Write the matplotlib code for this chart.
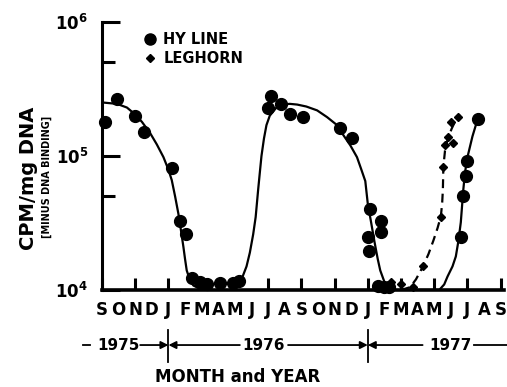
import numpy as np
import matplotlib.pyplot as plt
from matplotlib.lines import Line2D

# -----------------------------
# Data (months counted from Sept 1975 = 0)
# -----------------------------
month_labels = list("SONDJFMAMJJASONDJFMAMJJAS")

hyline_x = [0.2, 0.9, 2.0, 2.5, 4.2, 4.7, 5.05, 5.4, 5.9, 6.3, 7.1, 7.9, 8.25,
            10.0, 10.2, 10.8, 11.3, 12.1, 14.35, 15.05,
            16.15, 16.8, 16.0, 16.8, 16.05, 16.6, 17.0, 17.3,
            21.6, 21.75, 21.9, 22.0, 22.65]
hyline_y = [1.8e5, 2.66e5, 2.0e5, 1.5e5, 8.1e4, 3.3e4, 2.6e4, 1.23e4, 1.15e4, 1.1e4, 1.13e4, 1.13e4, 1.17e4,
            2.3e5, 2.8e5, 2.45e5, 2.05e5, 1.95e5, 1.63e5, 1.36e5,
            4.0e4, 3.3e4, 2.5e4, 2.7e4, 1.95e4, 1.08e4, 1.06e4, 1.05e4,
            2.5e4, 5.0e4, 7.1e4, 9.1e4, 1.9e5]

leghorn_x = [17.4, 18.0, 18.7, 19.3, 20.4, 20.5, 20.65, 20.85, 21.1, 21.0, 21.45]
leghorn_y = [1.15e4, 1.1e4, 1.05e4, 1.5e4, 3.5e4, 8.3e4, 1.2e5, 1.38e5, 1.26e5, 1.8e5, 1.95e5]

# fitted curves
hyline_fit_x = [0.0, 0.9, 1.5, 1.9, 2.4, 2.9, 3.3, 3.7, 4.0, 4.2, 4.4, 4.6, 4.75, 4.9,
                5.0, 5.1, 5.3, 5.5, 5.9, 6.5, 7.8,
                8.1, 8.4, 8.7, 8.9, 9.1, 9.25, 9.4, 9.5, 9.6, 9.75, 9.9, 10.1, 10.5,
                10.9, 11.3, 11.75, 12.3, 12.95, 13.55, 14.15, 14.5, 14.95, 15.35,
                15.6, 15.85, 16.0, 16.2, 16.4, 16.6, 16.75, 17.0, 17.2, 17.6,
                20.3, 20.6, 20.8, 21.1, 21.3, 21.45, 21.6, 21.75, 21.85, 22.0, 22.3, 22.6]
hyline_fit_y = [2.51e5, 2.45e5, 2.3e5, 2.09e5, 1.8e5, 1.48e5, 1.22e5, 9.8e4, 7.9e4, 6.6e4, 5.0e4, 3.7e4, 2.8e4, 2.1e4,
                1.7e4, 1.4e4, 1.18e4, 1.08e4, 1.02e4, 1.0e4, 1.0e4,
                1.06e4, 1.2e4, 1.5e4, 1.9e4, 2.6e4, 3.5e4, 5.6e4, 7.5e4, 1.0e5, 1.35e5, 1.7e5, 2.0e5, 2.3e5,
                2.42e5, 2.45e5, 2.42e5, 2.34e5, 2.19e5, 1.95e5, 1.7e5, 1.45e5, 1.2e5, 9.8e4,
                8.0e4, 6.5e4, 4.4e4, 3.2e4, 2.3e4, 1.7e4, 1.4e4, 1.15e4, 1.07e4, 1.0e4,
                1.0e4, 1.1e4, 1.26e4, 1.5e4, 1.78e4, 2.3e4, 3.2e4, 5.6e4, 7.5e4, 9.8e4, 1.4e5, 1.86e5]

leghorn_fit_x = [18.0, 18.55, 18.9, 19.3, 19.65, 19.95, 20.2, 20.4, 20.48, 20.52, 20.55,
                 20.65, 20.8, 21.05, 21.3, 21.55]
leghorn_fit_y = [1.0e4, 1.05e4, 1.2e4, 1.48e4, 1.85e4, 2.34e4, 2.9e4, 3.55e4, 4.5e4, 5.6e4, 8.3e4,
                 1.1e5, 1.32e5, 1.6e5, 1.86e5, 2.04e5]

# year row: (label, centre month), divider months
year_labels = ["1975", "1976", "1977"]
year_centres = [1.0, 9.7, 21.0]
year_dividers = [4, 16]

# -----------------------------
# Figure
# -----------------------------
plt.rcParams['font.family'] = 'DejaVu Sans'
plt.rcParams['font.weight'] = 'bold'

W, H = 507, 387
fig = plt.figure(figsize=(W / 100, H / 100), dpi=100)
ax = fig.add_axes([102 / W, 1 - 290 / H, 402 / W, 268 / H])

ax.plot(hyline_fit_x, hyline_fit_y, color='black', lw=1.6, zorder=2,
        solid_joinstyle='round')
ax.plot(leghorn_fit_x, leghorn_fit_y, color='black', lw=1.6, ls=(0, (4, 2.5)), zorder=2)
ax.plot(hyline_x, hyline_y, 'o', color='black', ms=8.5, clip_on=False, zorder=3)
ax.plot(leghorn_x, leghorn_y, 'D', color='black', ms=4.5, clip_on=False, zorder=3)

ax.set_yscale('log')
ax.set_ylim(1e4, 1e6)
ax.set_xlim(0, 24.2)

for s in ['top', 'right']:
    ax.spines[s].set_visible(False)
ax.spines['left'].set_linewidth(2.2)
ax.spines['bottom'].set_linewidth(2.6)

ax.set_yticks([1e4, 1e5, 1e6])
ax.set_yticklabels([r'$\mathbf{10^{4}}$', r'$\mathbf{10^{5}}$', r'$\mathbf{10^{6}}$'])
ax.set_yticks([5e4, 5e5], minor=True)
ax.yaxis.set_minor_formatter(plt.NullFormatter())
ax.tick_params(axis='y', which='major', direction='in', length=13, width=2.2,
               labelsize=12, pad=10)
ax.tick_params(axis='y', which='minor', direction='in', length=9, width=2.2)

ax.xaxis.remove_overlapping_locs = False
ax.set_xticks(np.arange(0, 25, 2))
ax.set_xticklabels([])
ax.tick_params(axis='x', which='major', direction='in', length=9, width=2.2)
ax.set_xticks(np.arange(25), labels=month_labels, minor=True)
ax.tick_params(axis='x', which='minor', length=0, labelsize=12, pad=8)

legend_handles = [
    Line2D([], [], marker='o', ls='none', color='black', ms=8),
    Line2D([], [], marker='D', ls='none', color='black', ms=4),
]
ax.legend(legend_handles, ['HY LINE', 'LEGHORN'], loc='upper left',
          bbox_to_anchor=(0.08, 1.0), frameon=False, handlelength=0.8,
          handletextpad=0.5, labelspacing=0.25, borderaxespad=0.3,
          prop={'size': 10.5, 'weight': 'bold'})

fig.text(28 / W, 1 - 178 / H, 'CPM/mg DNA', rotation=90, ha='center', va='center',
         fontsize=14, fontweight='bold')
fig.text(47 / W, 1 - 177 / H, '[MINUS DNA BINDING]', rotation=90, ha='center', va='center',
         fontsize=7, fontweight='bold')

# year row
ay = fig.add_axes([102 / W, 1 - 362 / H, 402 / W, 32 / H])
ay.set_xlim(ax.get_xlim())
ay.set_ylim(0, 1)
ay.axis('off')
yc = 0.53
arrow = dict(arrowstyle='-|>', lw=1.3, color='black', mutation_scale=11,
             shrinkA=0, shrinkB=0)
for d in year_dividers:
    ay.plot([d, d], [0, 1], color='black', lw=1.3, clip_on=False)
for lab, c in zip(year_labels, year_centres):
    ay.text(c, yc, lab, ha='center', va='center', fontsize=11, fontweight='bold')
ay.plot([-1.15, -0.7], [yc, yc], color='black', lw=1.3, clip_on=False)
ay.annotate('', xy=(year_dividers[0], yc), xytext=(2.3, yc), arrowprops=arrow,
            annotation_clip=False)
ay.annotate('', xy=(year_dividers[0], yc), xytext=(8.3, yc), arrowprops=arrow,
            annotation_clip=False)
ay.annotate('', xy=(year_dividers[1], yc), xytext=(11.2, yc), arrowprops=arrow,
            annotation_clip=False)
ay.annotate('', xy=(year_dividers[1], yc), xytext=(19.3, yc), arrowprops=arrow,
            annotation_clip=False)
ay.plot([22.4, 24.4], [yc, yc], color='black', lw=1.3, clip_on=False)

fig.text(238 / W, 1 - 377 / H, 'MONTH and YEAR', ha='center', va='center',
         fontsize=12, fontweight='bold')

fig.savefig('out.png', dpi=100)
